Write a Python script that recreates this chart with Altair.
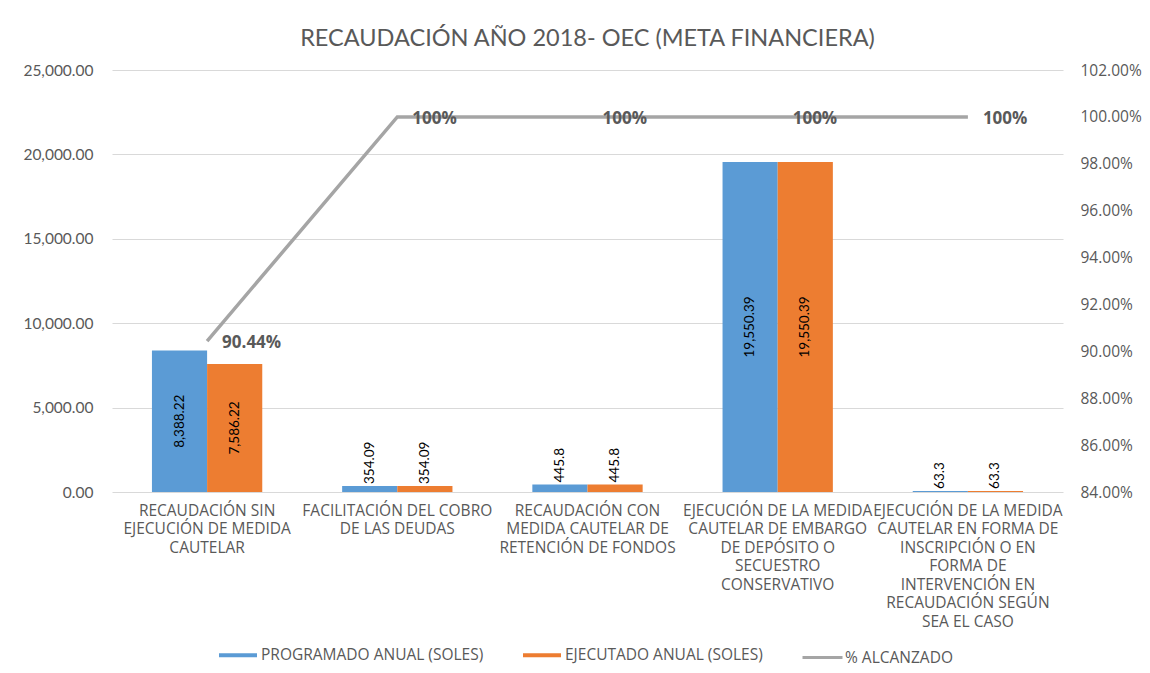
import altair as alt
import pandas as pd

categories = [
    "RECAUDACIÓN SIN|EJECUCIÓN DE MEDIDA|CAUTELAR",
    "FACILITACIÓN DEL COBRO|DE LAS DEUDAS",
    "RECAUDACIÓN CON|MEDIDA CAUTELAR DE|RETENCIÓN DE FONDOS",
    "EJECUCIÓN DE LA MEDIDA|CAUTELAR DE EMBARGO|DE DEPÓSITO O|SECUESTRO|CONSERVATIVO",
    "EJECUCIÓN DE LA MEDIDA|CAUTELAR EN FORMA DE|INSCRIPCIÓN O EN|FORMA DE|INTERVENCIÓN EN|RECAUDACIÓN SEGÚN|SEA EL CASO",
]
series_names = ["PROGRAMADO ANUAL (SOLES)", "EJECUTADO ANUAL (SOLES)"]
line_name = "% ALCANZADO"
programado = [8388.22, 354.09, 445.8, 19550.39, 63.3]
ejecutado = [7586.22, 354.09, 445.8, 19550.39, 63.3]
alcanzado = [0.9044, 1.0, 1.0, 1.0, 1.0]
left_ticks = [0, 5000, 10000, 15000, 20000, 25000]
right_ticks = [0.84, 0.86, 0.88, 0.90, 0.92, 0.94, 0.96, 0.98, 1.00, 1.02]

bar_colors = ["#5b9bd5", "#ed7d31"]
line_color = "#a5a5a5"
txt = "#595959"

rows = []
for c, p, e in zip(categories, programado, ejecutado):
    rows.append({"cat": c, "series": series_names[0], "value": p})
    rows.append({"cat": c, "series": series_names[1], "value": e})
df_bars = pd.DataFrame(rows)
df_line = pd.DataFrame({"cat": categories, "pct": alcanzado,
                        "series": [line_name] * len(categories)})

x_enc = alt.X(
    "cat:N", sort=categories,
    scale=alt.Scale(paddingInner=0.42, paddingOuter=0.21),
    axis=alt.Axis(title=None, labelExpr="split(datum.label, '|')", labelAngle=0,
                  domain=False, ticks=False, labelFontSize=15.5, labelColor=txt,
                  labelFont="Open Sans", labelPadding=11, labelLineHeight=18.5,
                  labelLimit=400, labelBaseline="top", labelOverlap=False,
                  labelBound=False),
)
xoff = alt.XOffset("series:N", sort=series_names,
                   scale=alt.Scale(paddingInner=0, paddingOuter=0))
y_enc = alt.Y("value:Q", scale=alt.Scale(domain=[0, 25000], nice=False),
              axis=alt.Axis(title=None, values=left_ticks, format=",.2f",
                            domain=False, ticks=False, grid=True, gridColor="#d9d9d9",
                            labelFontSize=15.5, labelColor=txt, labelFont="Lato",
                            labelPadding=19))

bar_legend = alt.Legend(
    title=None, orient="none", legendX=107, legendY=566, direction="horizontal",
    labelFontSize=15.5, labelColor=txt, labelFont="Open Sans", labelLimit=400,
    symbolSize=1444, columnPadding=39, labelOffset=4, padding=0,
    symbolType="M-1,-0.105H1V0.105H-1Z", symbolStrokeWidth=0,
)
line_legend = alt.Legend(
    title=None, orient="none", legendX=689, legendY=566, direction="horizontal",
    labelFontSize=15.5, labelColor=txt, labelFont="Open Sans", labelLimit=400,
    symbolSize=1600, labelOffset=1, padding=0, symbolType="stroke",
    symbolStrokeWidth=3,
)

bars = alt.Chart(df_bars).mark_bar().encode(
    x=x_enc, xOffset=xoff, y=y_enc,
    color=alt.Color("series:N", scale=alt.Scale(domain=series_names, range=bar_colors),
                    legend=bar_legend),
)

big = alt.Chart(df_bars).transform_filter("datum.value > 1000").transform_calculate(
    mid="datum.value / 2").mark_text(angle=270, align="center", baseline="middle",
                                     fontSize=13.5, color="#000000", font="Lato").encode(
    x=x_enc, xOffset=xoff, y=alt.Y("mid:Q"), text=alt.Text("value:Q", format=",.2~f"))

small = alt.Chart(df_bars).transform_filter("datum.value <= 1000").mark_text(
    angle=270, align="left", baseline="middle", dx=2,
    fontSize=13.5, color="#000000", font="Lato").encode(
    x=x_enc, xOffset=xoff, y=alt.Y("value:Q"), text=alt.Text("value:Q", format=",.2~f"))

y2 = alt.Y("pct:Q", scale=alt.Scale(domain=[0.84, 1.02], nice=False, zero=False),
           axis=alt.Axis(title=None, orient="right", values=right_ticks, format=".2%",
                         domain=False, ticks=False, grid=False, labelFontSize=15.5,
                         labelColor=txt, labelFont="Open Sans", labelPadding=17))

line = alt.Chart(df_line).mark_line(strokeWidth=3.5).encode(
    x=x_enc, y=y2,
    stroke=alt.Stroke("series:N", scale=alt.Scale(domain=[line_name], range=[line_color]),
                      legend=line_legend))

labels = alt.Chart(df_line).mark_text(
    align="left", baseline="middle", dx=15, dy=2, fontSize=17, fontWeight="bold",
    color=txt, font="Open Sans").encode(
    x=x_enc, y=y2, text=alt.Text("pct:Q", format=".2~%"))

left = alt.layer(bars, big, small)
right = alt.layer(line, labels)

chart = alt.layer(left, right).resolve_scale(y="independent").properties(
    width=951, height=422,
    title=alt.Title("RECAUDACIÓN AÑO 2018- OEC (META FINANCIERA)", fontSize=23.5,
                    font="Lato", fontWeight="normal", color=txt, anchor="middle",
                    offset=13),
    autosize=alt.AutoSizeParams(type="none"),
    padding={"left": 104, "top": 62, "right": 79, "bottom": 180},
).configure_view(stroke=None)

chart.save("out.html", embed_options={"renderer": "svg", "actions": False})
